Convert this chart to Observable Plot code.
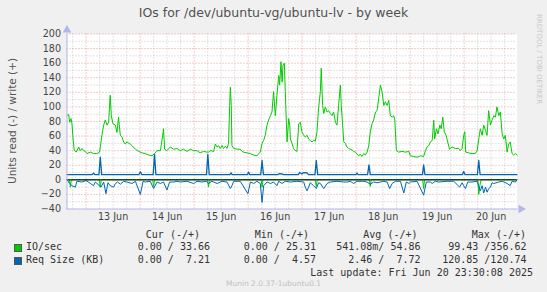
<!DOCTYPE html>
<html>
<head>
<meta charset="utf-8">
<script src="https://cdn.jsdelivr.net/npm/d3@7"></script>
<script src="https://cdn.jsdelivr.net/npm/@observablehq/plot@0.6"></script>
<style>
  html, body { margin: 0; padding: 0; }
  body { background: #F0F0F0; width: 547px; height: 292px; overflow: hidden; position: relative; font-family: "DejaVu Sans", sans-serif; }
  .abs { position: absolute; white-space: pre; }
  #title { top: 5px; left: 0; width: 547px; text-align: center; font-size: 12.5px; color: #505050; line-height: 16px; }
  #ylabel { font-size: 10.5px; color: #555; line-height: 12px; transform-origin: center center; }
  #rrd { font-size: 7px; color: #C8C8C8; line-height: 9px; transform: rotate(90deg); transform-origin: top left; }
  #munin { font-size: 7.5px; color: #C0C0C0; width: 547px; text-align: center; left: 0; top: 279px; line-height: 10px; }
  .mono { font-family: "DejaVu Sans Mono", monospace; font-size: 10px; color: #333; line-height: 12px; }
  .box { position: absolute; width: 6px; height: 6px; border: 0.5px solid #555; }
  #chart { position: absolute; left: 0; top: 0; }
</style>
</head>
<body>
<div id="title" class="abs"></div>
<div id="ylabel" class="abs"></div>
<div id="rrd" class="abs"></div>
<div id="chart"></div>
<div id="legend"></div>
<div id="munin" class="abs"></div>
<script>
// ---- texts ----
const titleText = "IOs for /dev/ubuntu-vg/ubuntu-lv - by week";
const yLabelText = "Units read (-) / write (+)";
const rrdText = "RRDTOOL / TOBI OETIKER";
const muninText = "Munin 2.0.37-1ubuntu0.1";
const lastUpdateText = "Last update: Fri Jun 20 23:30:08 2025";

// ---- time axis ----
const startTime = "2025-06-12T15:30:00Z";
const endTime = "2025-06-20T23:30:00Z";
const dayTicks = ["2025-06-13T12:00:00Z","2025-06-14T12:00:00Z","2025-06-15T12:00:00Z","2025-06-16T12:00:00Z","2025-06-17T12:00:00Z","2025-06-18T12:00:00Z","2025-06-19T12:00:00Z","2025-06-20T12:00:00Z"];
const dayLabels = ["13 Jun","14 Jun","15 Jun","16 Jun","17 Jun","18 Jun","19 Jun","20 Jun"];
const yTicks = [-40,-20,0,20,40,60,80,100,120,140,160,180,200];

// ---- series: [hours since start, value] ----
const ioRead = [[0,0],[1.1,0],[1.5,-10],[1.9,0],[14.4,0],[14.8,-10],[15.2,0],[38.1,0],[38.5,-9],[38.9,0],[62.5,0],[62.9,-10],[63.3,0],[86.3,0],[86.7,-10],[87.1,0],[110.3,0],[110.8,-9],[111.2,0],[134.4,0],[134.8,-9],[135.2,0],[158.1,0],[158.5,-12],[158.9,0],[182.6,0],[183,-20],[183.5,-8],[184,0],[200,0]];

const ioWrite = [[0,88],[0.7,90],[1.2,79],[1.8,84],[2.2,77],[2.7,56],[3.2,41],[4.1,38],[5.2,45],[5.9,40],[6.7,43],[7.4,40],[8.1,39],[8.9,36],[10.4,38],[11.8,36],[13.3,36],[14.5,38],[15.5,61],[16.3,75],[17,82],[17.8,75],[18.5,79],[19.2,116],[19.7,88],[20.4,77],[21.5,75],[22.2,65],[22.9,86],[23.7,61],[24.4,59],[25.2,52],[25.9,49],[26.6,52],[28.1,49],[28.9,47],[30.4,42],[31.8,39],[33.3,37],[34.8,36],[36.3,34],[37.8,33],[38.9,36],[40,40],[41.5,40],[42.2,54],[42.9,70],[43.4,42],[44.4,40],[45.9,45],[47.4,42],[48.9,43],[50.3,40],[51.8,42],[53.3,39],[54.8,42],[56.3,40],[57.8,40],[59.2,37],[60.7,39],[62.2,38],[62.9,38],[63.7,40],[65.2,39],[65.9,49],[66.7,45],[67.4,47],[68.1,43],[68.9,47],[69.6,43],[70.4,46],[71.1,43],[71.8,50],[72.3,102],[72.6,127],[73,102],[73.3,47],[74.1,43],[75.6,42],[77,42],[77.8,39],[78.5,38],[80,37],[81.5,36],[83,34],[84.4,33],[85.9,38],[86.7,50],[87.4,54],[88.1,61],[88.9,75],[89.6,82],[90.4,88],[91.1,93],[91.8,121],[92.6,88],[93.3,116],[94.1,143],[94.5,130],[95.1,162],[95.6,134],[96,157],[96.6,160],[97,121],[97.5,79],[97.8,52],[98.5,84],[99,75],[99.3,56],[100,50],[100.7,43],[101.5,40],[102.2,39],[103,77],[103.7,79],[104.4,66],[105.2,61],[105.9,59],[106.7,61],[107.4,56],[108.1,54],[108.9,52],[109.6,54],[110.4,53],[111.1,66],[111.8,98],[112.6,121],[113,153],[113.6,102],[114.1,91],[114.8,100],[115.6,93],[116.3,95],[117,91],[117.8,88],[118.5,93],[119.3,79],[120,75],[120.7,102],[121.5,130],[121.9,102],[122.5,75],[123,52],[123.7,50],[124.4,45],[125.2,43],[125.9,42],[126.7,41],[127.4,39],[128.1,38],[128.9,36],[129.6,33],[130.4,35],[131.1,32],[131.9,36],[132.6,34],[133.4,38],[134.1,47],[134.8,66],[135.6,77],[136.3,82],[137.1,93],[137.8,95],[138.5,111],[139.3,130],[140,121],[140.8,102],[141.5,107],[142.3,102],[143,109],[143.7,88],[144.5,86],[145.2,88],[145.7,82],[146.4,40],[147.4,38],[148.9,39],[150.4,38],[151.9,39],[152.6,33],[154.1,32],[155.6,31],[157.1,33],[158.5,32],[159.3,40],[160,45],[160.8,47],[161.5,52],[162.3,54],[163,82],[163.4,56],[164.2,70],[164.9,63],[165.7,75],[166.3,70],[167,86],[167.7,66],[168.5,61],[169.2,52],[170,42],[171.1,45],[172.6,43],[174.1,43],[174.8,40],[175.6,43],[176.3,61],[176.8,66],[177.2,38],[178.5,37],[180,36],[181.5,36],[182.3,40],[183,56],[183.7,70],[184.5,61],[185.2,75],[186,68],[186.7,61],[187.4,95],[188.2,75],[188.9,82],[189.7,88],[190.4,86],[191.1,100],[191.9,88],[192.6,93],[193.4,63],[194.1,56],[194.8,61],[195.6,38],[196.3,49],[197,52],[197.8,36],[198.5,34],[199.3,36],[200,34]];

const reqRead = [[0,0],[1.2,-5],[2.2,-8],[3.7,-10],[4.4,-2],[6.6,-3],[8.5,-1],[10.4,-5],[11.8,-8],[12.6,-3],[15.1,-10],[16.3,-3],[17.3,-19],[18.2,-4],[19.2,-8],[20.7,-10],[21.5,-5],[22.5,-3],[23.7,-6],[25.2,-2],[26.6,-3],[28.9,-5],[30.4,-2],[32.6,-20],[33.8,-2],[34.8,-3],[37,-2],[38.5,-12],[40,-3],[41.5,-5],[42.9,-3],[44.4,-14],[45.6,-3],[47.4,-3],[48.9,-2],[50.3,-3],[53.3,-2],[56.3,-5],[57.8,-2],[60,-3],[61.9,-2],[62.9,-5],[64.4,-2],[65.2,-3],[66.7,-5],[68.9,-2],[71.1,-3],[72.6,-12],[73.3,-8],[74.1,-2],[77,-2],[80.4,-19],[81.5,-3],[83,-5],[84.4,-2],[85.9,-5],[86.7,-31],[87.4,-8],[88.9,-3],[90.4,-5],[91.8,-3],[93.3,-8],[94.1,-2],[95.6,-5],[97,-2],[99.3,-3],[102.2,-2],[105.2,-3],[105.9,-10],[106.7,-15],[107.4,-10],[108.1,-4],[109.6,-8],[110.8,-12],[111.8,-4],[112.6,-5],[114.1,-12],[115.6,-5],[117,-3],[120,-2],[123,-3],[124.4,-3],[125.9,-2],[127.4,-5],[128.9,-2],[131.9,-2],[133.3,-3],[134.8,-6],[136.3,-3],[137.8,-4],[139.3,-3],[140.8,-2],[142.3,-3],[143.4,-12],[144.5,-5],[146,-2],[148.2,-2],[149.7,-18],[150.8,-3],[151.9,-5],[152.6,-3],[155.6,-2],[158.5,-21],[159.7,-3],[161.5,-3],[162.3,-5],[163.7,-2],[165.2,-3],[168.9,-2],[171.9,-2],[174.5,-10],[175.6,-4],[176.3,-8],[177.1,-12],[178.1,-3],[180,-3],[182.3,-2],[183.7,-15],[184.5,-8],[185.2,-18],[186,-10],[186.7,-17],[187.4,-12],[188.2,-10],[188.9,-4],[189.7,-5],[191.9,-3],[193.4,-2],[195.6,-5],[197,-8],[197.8,-2],[199.3,-3],[200,0]];

const reqWrite = [[0,7.2],[11.2,7.2],[11.8,9],[12.4,7.2],[14.2,7.2],[14.8,31],[15.4,7.2],[32,7.2],[32.6,11],[33.2,7.2],[38.3,7.2],[38.9,35],[39.5,7.2],[62,7.2],[62.6,35],[63.2,7.2],[72.4,7.2],[72.9,9.5],[73.4,7.2],[80.2,7.2],[80.7,10.5],[81.2,7.2],[86.1,7.2],[86.7,26.5],[87.3,7.2],[93.8,7.2],[94.4,8.5],[95.6,8],[96.2,7.2],[102.8,7.2],[103.4,10],[104.4,8],[105.2,10],[106.7,9.5],[107.3,7.2],[110.2,7.2],[110.8,26.5],[111.4,7.2],[128.4,7.2],[128.9,9],[129.4,7.2],[133.6,7.2],[134.2,20.6],[134.8,7.2],[158,7.2],[158.5,20.6],[159.1,7.2],[175.8,7.2],[176.3,11.4],[176.9,7.2],[182.4,7.2],[183,26.5],[183.6,7.2],[200,7.2]];

// ---- legend ----
const legendNames = ["IO/sec", "Req Size (KB)"];
const legendColors = ["#00CC00", "#0066B3"];
const legendHeaders = ["Cur (-/+)", "Min (-/+)", "Avg (-/+)", "Max (-/+)"];
const legendCur = ["0.00 / 33.66", "0.00 /  7.21"];
const legendMin = ["0.00 / 25.31", "0.00 /  4.57"];
const legendAvg = ["541.08m/ 54.86", "2.46 /  7.72"];
const legendMax = ["99.43 /356.62", "120.85 /120.74"];

// ---- build ----
const t0 = Date.parse(startTime);
const t1 = Date.parse(endTime);
const rows = (pairs) => pairs.map(([h, v]) => ({t: new Date(t0 + h * 3600e3), v}));

const sixHours = d3.utcHour.every(6).range(new Date(t0), new Date(t1));
const majorX = sixHours.filter(d => d.getUTCHours() === 0);
const minorX = sixHours.filter(d => d.getUTCHours() !== 0);
const yGrid = d3.range(-30, 201, 10);
const majorY = yGrid.filter(v => v % 20 === 0 && v !== 0);
const minorY = yGrid.filter(v => v % 20 !== 0);
const labelOf = new Map(dayTicks.map((d, i) => [Date.parse(d), dayLabels[i]]));

const axisColor = "#B4B4EE";
const chart = Plot.plot({
  width: 547,
  height: 230,
  marginLeft: 66.5,
  marginRight: 30.5,
  marginTop: 33.5,
  marginBottom: 21.5,
  style: {background: "transparent", fontFamily: "DejaVu Sans", fontSize: "9.6px", color: "#444"},
  x: {type: "utc", domain: [new Date(t0), new Date(t1)]},
  y: {domain: [-40, 200]},
  marks: [
    Plot.frame({fill: "white", stroke: null}),
    Plot.ruleY(minorY, {stroke: "#C8C8C8", strokeDasharray: "1,2"}),
    Plot.ruleX(minorX, {stroke: "#C8C8C8", strokeDasharray: "1,2"}),
    Plot.ruleY(majorY, {stroke: "#E49A9A", strokeDasharray: "1,2"}),
    Plot.ruleX(majorX, {stroke: "#E49A9A", strokeDasharray: "1,2"}),
    Plot.line(rows(ioRead), {x: "t", y: "v", stroke: "#00CC00", strokeWidth: 1}),
    Plot.line(rows(ioWrite), {x: "t", y: "v", stroke: "#00CC00", strokeWidth: 1}),
    Plot.line(rows(reqRead), {x: "t", y: "v", stroke: "#0066B3", strokeWidth: 1}),
    Plot.line(rows(reqWrite), {x: "t", y: "v", stroke: "#0066B3", strokeWidth: 1.3}),
    Plot.ruleY([0], {stroke: "#000", strokeWidth: 1}),
    Plot.frame({anchor: "left", stroke: axisColor}),
    Plot.frame({anchor: "bottom", stroke: axisColor}),
    Plot.dot([0], {frameAnchor: "top-left", symbol: "triangle", r: 3.2, fill: axisColor, stroke: null, dy: -4}),
    Plot.dot([0], {frameAnchor: "bottom-right", symbol: "triangle", r: 3.2, fill: axisColor, stroke: null, rotate: 90, dx: 4}),
    Plot.axisY(yTicks, {tickSize: 0, tickPadding: 6, label: null, fill: "#444"}),
    Plot.axisX(dayTicks.map(d => new Date(d)), {tickSize: 0, tickPadding: 4, label: null, tickFormat: d => labelOf.get(+d), fill: "#444"})
  ]
});
document.getElementById("chart").appendChild(chart);

// texts
document.getElementById("title").textContent = titleText;
const yl = document.getElementById("ylabel");
yl.textContent = yLabelText;
document.body.appendChild(yl);
const ylw = yl.getBoundingClientRect().width;
yl.style.left = (12 - ylw / 2) + "px";
yl.style.top = (121 - 6) + "px";
yl.style.transform = "rotate(-90deg)";

const rrd = document.getElementById("rrd");
rrd.textContent = rrdText;
rrd.style.left = (543) + "px";
rrd.style.top = "14px";

document.getElementById("munin").textContent = muninText;

const legend = document.getElementById("legend");
function place(text, right, centerY, cls) {
  const el = document.createElement("div");
  el.className = "abs " + cls;
  el.textContent = text;
  legend.appendChild(el);
  const w = el.getBoundingClientRect().width;
  el.style.left = (right - w) + "px";
  el.style.top = (centerY - 6) + "px";
  return el;
}
const headerRights = [200, 309, 417.5, 526];
const valueRights = [210, 316, 420.5, 526.5];
legendHeaders.forEach((h, i) => place(h, headerRights[i], 234.5, "mono"));
const rowY = [247, 260];
legendNames.forEach((name, r) => {
  const box = document.createElement("div");
  box.className = "box";
  box.style.background = legendColors[r];
  box.style.left = "13.5px";
  box.style.top = (rowY[r] - 3.5) + "px";
  legend.appendChild(box);
  const n = document.createElement("div");
  n.className = "abs mono";
  n.textContent = name;
  n.style.left = "26px";
  n.style.top = (rowY[r] - 6) + "px";
  legend.appendChild(n);
  [legendCur, legendMin, legendAvg, legendMax].forEach((col, c) => place(col[r], valueRights[c], rowY[r], "mono"));
});
place(lastUpdateText, 533, 272.5, "mono");
</script>
</body>
</html>
